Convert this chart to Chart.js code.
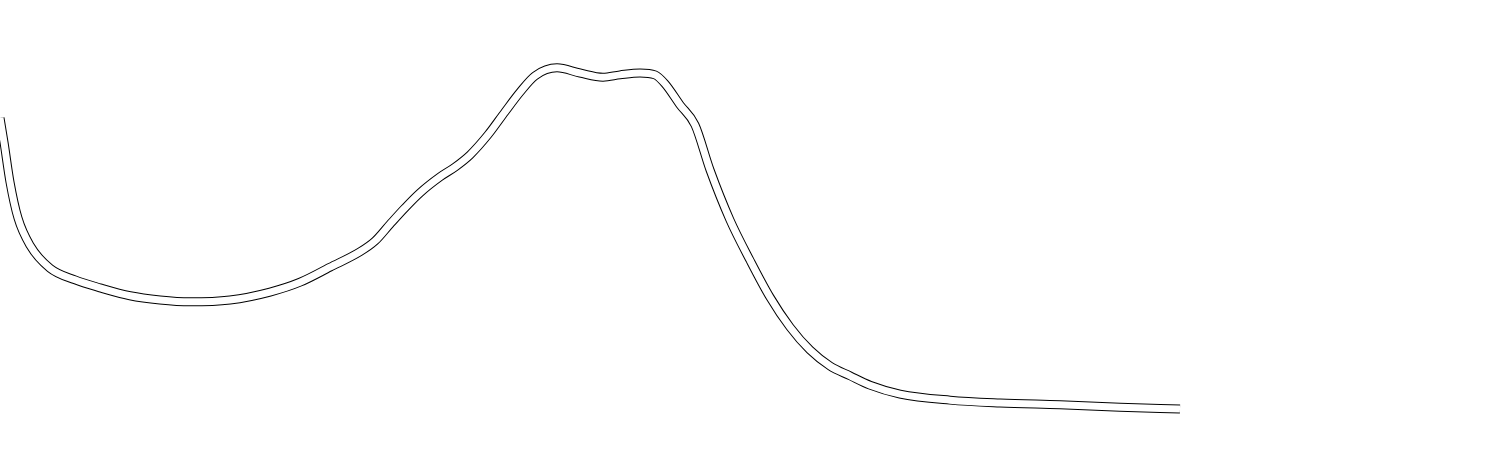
<!DOCTYPE html>
<html>
<head>
<meta charset="utf-8">
<script src="https://cdn.jsdelivr.net/npm/chart.js@4"></script>
<style>
  html, body { margin: 0; padding: 0; background: #fff; }
  #wrap { width: 1493px; height: 468px; position: relative; }
</style>
</head>
<body>
<div id="wrap"><canvas id="chart"></canvas></div>
<script>
// ── Data ──────────────────────────────────────────────────
const xs = [0, 0.4, 1, 1.8, 3, 5, 7.5, 10, 13, 16, 19, 23, 27, 30, 33, 36, 37.5, 39, 40.5, 42,
  44, 45.5, 47, 48.8, 50.5, 52, 53.5, 55.7, 58, 60.3, 62, 64, 65.5, 66.5, 68, 69.5, 71, 73, 75,
  77, 79, 81, 83, 85, 87, 90, 95, 100, 106, 112, 118];
const ys = [74.8, 69.6, 61.1, 53.4, 47.6, 42.7, 40.2, 38.5, 36.8, 35.9, 35.5, 35.9, 37.6, 39.7,
  42.9, 46.2, 48.5, 52.1, 55.6, 58.8, 62.2, 64.3, 66.9, 71.2, 76.1, 80.3, 83.8, 85.5, 84.4, 83.5,
  84.0, 84.4, 84.0, 82.1, 77.6, 73.3, 63.7, 53.0, 44.4, 36.5, 30.1, 25.2, 21.8, 19.7, 17.7, 15.8,
  14.5, 13.9, 13.5, 13.0, 12.6];

const xMax = 149.3;
const yMax = 100;

const points = xs.map((x, i) => ({ x, y: ys[i] }));

// ── Chart ─────────────────────────────────────────────────
// outline look: wide black stroke underneath, narrower white stroke on top
const band = (color, width) => ({
  data: points,
  borderColor: color,
  borderWidth: width,
  pointRadius: 0,
  fill: false,
  cubicInterpolationMode: 'monotone',
  borderCapStyle: 'butt',
});

new Chart(document.getElementById('chart'), {
  type: 'line',
  data: { datasets: [band('#ffffff', 7), band('#000000', 9)] },
  options: {
    responsive: true,
    maintainAspectRatio: false,
    animation: false,
    layout: { padding: 0 },
    plugins: { legend: { display: false }, tooltip: { enabled: false } },
    scales: {
      x: { type: 'linear', min: 0, max: xMax, display: false },
      y: { min: 0, max: yMax, display: false }
    }
  }
});
</script>
</body>
</html>
